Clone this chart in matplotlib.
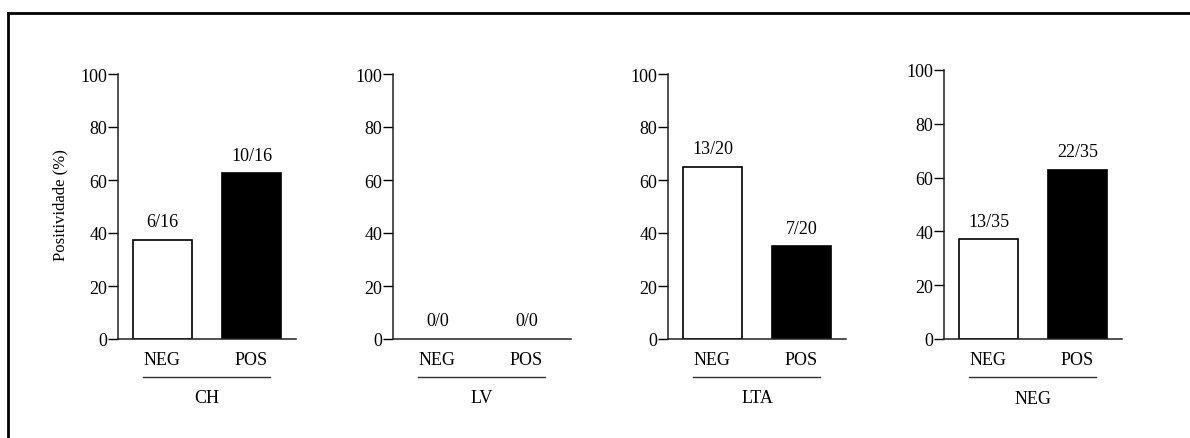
import matplotlib
matplotlib.use("Agg")
import matplotlib.pyplot as plt
from matplotlib.lines import Line2D

plt.rcParams['font.family'] = ['Liberation Serif', 'DejaVu Serif']

groups = ["CH", "LV", "LTA", "NEG"]
categories = ["NEG", "POS"]
positive = [[6, 10], [0, 0], [13, 7], [13, 22]]
totals = [[16, 16], [0, 0], [20, 20], [35, 35]]
percent = [[37.5, 62.5], [0, 0], [65, 35], [37.1, 62.9]]
yticks = [0, 20, 40, 60, 80, 100]
ylabel = "Positividade (%)"

W, H = 1190, 439
fig = plt.figure(figsize=(W / 100, H / 100), dpi=100)

lefts = [118, 393, 668, 944]
tops = [75, 75, 75, 71]
bottom_px = 340
width_px = 178
FS = 13

for i, g in enumerate(groups):
    l = lefts[i] / W
    b = 1 - bottom_px / H
    h = (bottom_px - tops[i]) / H
    ax = fig.add_axes([l, b, width_px / W, h])
    x = list(range(len(categories)))
    colors = ['white', 'black']
    for xi in x:
        if percent[i][xi] > 0:
            ax.bar(x[xi], percent[i][xi], width=0.66, color=colors[xi], edgecolor='black', linewidth=1.2)
        ax.annotate(f"{positive[i][xi]}/{totals[i][xi]}", (xi, percent[i][xi]),
                    xytext=(0, 13), textcoords='offset points', ha='center', va='center', fontsize=FS)
    ax.set_xlim(-0.5, 1.5)
    ax.set_ylim(0, 100)
    ax.set_yticks(yticks)
    ax.set_xticks(x)
    ax.set_xticklabels(categories, fontsize=FS)
    ax.tick_params(axis='x', length=0, pad=9)
    ax.tick_params(axis='y', length=7, width=1, labelsize=FS, pad=0.5, direction='out')
    for s in ['top', 'right']:
        ax.spines[s].set_visible(False)
    for s in ['left', 'bottom']:
        ax.spines[s].set_linewidth(1.1)
        ax.spines[s].set_color('#222222')
    ax.add_line(Line2D([-0.22, 1.21], [-0.143, -0.143], transform=ax.get_xaxis_transform(),
                       color='#333333', linewidth=1, clip_on=False))
    ax.text(0.5, -0.22, g, transform=ax.transAxes, ha='center', va='center', fontsize=FS)

fig.text(60 / W, 1 - 205 / H, ylabel, rotation=90, ha='center', va='center', fontsize=12)

# partial frame (top and left edges)
fig.add_artist(Line2D([8 / W, 1.0], [1 - 14 / H, 1 - 14 / H], transform=fig.transFigure, color='black', linewidth=2))
fig.add_artist(Line2D([8 / W, 8 / W], [0, 1 - 14 / H], transform=fig.transFigure, color='black', linewidth=2))

fig.savefig("out.png", dpi=100)
